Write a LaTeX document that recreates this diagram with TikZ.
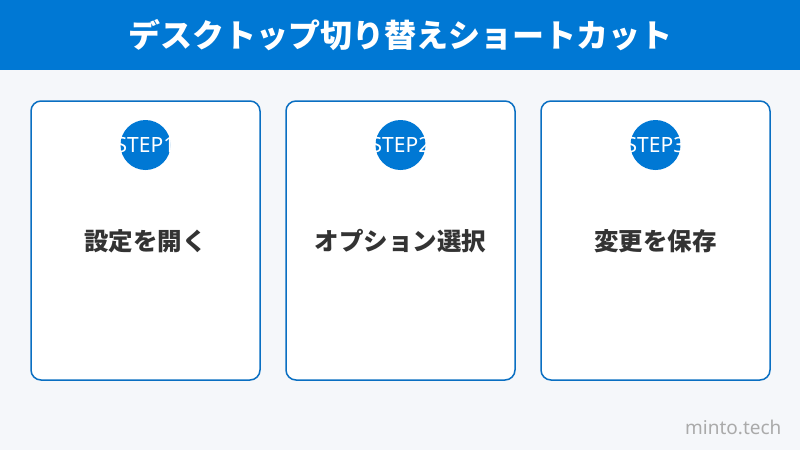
\documentclass[tikz,border=0pt]{standalone}
\usepackage{fontspec}
\setmainfont{Noto Sans CJK JP}
\newfontfamily\latinfont{Noto Sans}
\definecolor{headblue}{HTML}{0078D4}
\definecolor{cardblue}{HTML}{0A6FC2}
\definecolor{pagegray}{HTML}{F5F7FA}
\definecolor{labelgray}{HTML}{333333}
\definecolor{markgray}{HTML}{AAAAAA}
\tikzset{
  card/.style={draw=cardblue, line width=1.5pt, fill=white, rounded corners=10pt,
    minimum width=229pt, minimum height=279pt},
  stepdot/.style={circle, fill=headblue, minimum size=50pt, inner sep=0pt},
  steptext/.style={text=white, inner sep=0pt, font=\latinfont\fontsize{21}{21}\selectfont},
  steplabel/.style={text=labelgray, font=\bfseries\fontsize{24.5}{24.5}\selectfont}
}
\begin{document}
\begin{tikzpicture}[x=1pt,y=-1pt]
    \fill[pagegray](0,0) rectangle (800,450);
    \useasboundingbox (0,0) rectangle (800,450);
    % header
    \fill[headblue](0,0) rectangle (800,70);
    \node[text=white, font=\bfseries\fontsize{32}{32}\selectfont] (title) at (400,35) {デスクトップ切り替えショートカット};
    % cards
    \node[card] (card1) at (145.5,240.5) {};
    \node[card] (card2) at (400.5,240.5) {};
    \node[card] (card3) at (655.5,240.5) {};
    \node[stepdot] (dot1) at (145.5,145) {};
    \node[stepdot] (dot2) at (400.5,145) {};
    \node[stepdot] (dot3) at (655.5,145) {};
    \node[steptext] (num1) at (dot1) {STEP1};
    \node[steptext] (num2) at (dot2) {STEP2};
    \node[steptext] (num3) at (dot3) {STEP3};
    \node[steplabel] (lab1) at (145.5,241) {設定を開く};
    \node[steplabel] (lab2) at (400.5,241) {オプション選択};
    \node[steplabel] (lab3) at (655.5,241) {変更を保存};
    % mark
    \node[anchor=east, text=markgray, font=\latinfont\fontsize{19}{19}\selectfont] (mark) at (785,427) {minto.tech};
\end{tikzpicture}
\end{document}
